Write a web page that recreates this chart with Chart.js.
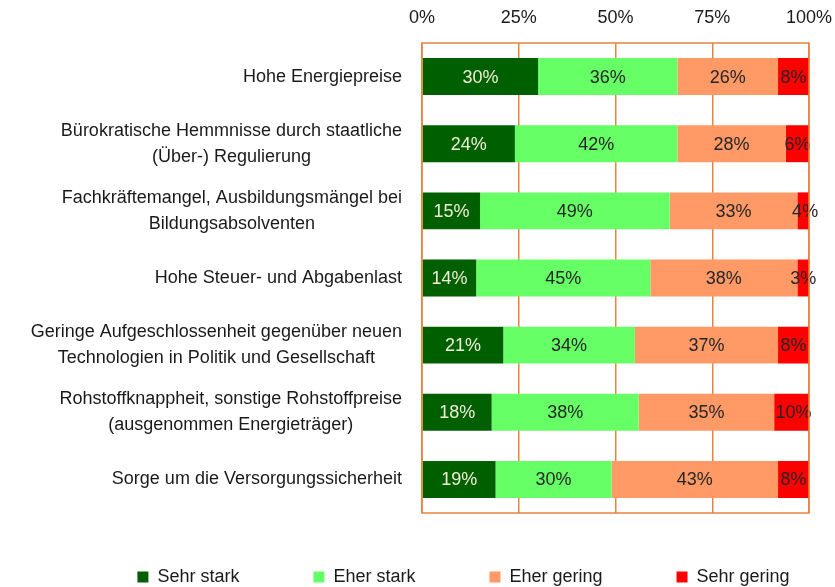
<!DOCTYPE html>
<html>
<head>
<meta charset="utf-8">
<script src="https://cdn.jsdelivr.net/npm/chart.js@4"></script>
<style>
  html, body { margin: 0; padding: 0; background: #ffffff; }
  #wrap { width: 835px; height: 587px; }
</style>
</head>
<body>
<div id="wrap"><canvas id="barChart" width="835" height="587"></canvas></div>
<script>
const categories = [
    ['Hohe Energiepreise'],
    ['Bürokratische Hemmnisse durch staatliche', '(Über-) Regulierung'],
    ['Fachkräftemangel, Ausbildungsmängel bei', 'Bildungsabsolventen'],
    ['Hohe Steuer- und Abgabenlast'],
    ['Geringe Aufgeschlossenheit gegenüber neuen', 'Technologien in Politik und Gesellschaft'],
    ['Rohstoffknappheit, sonstige Rohstoffpreise', '(ausgenommen Energieträger)'],
    ['Sorge um die Versorgungssicherheit'],
];
const sehrStark = [30, 24, 15, 14, 21, 18, 19];
const eherStark = [36, 42, 49, 45, 34, 38, 30];
const eherGering = [26, 28, 33, 38, 37, 35, 43];
const sehrGering = [8, 6, 4, 3, 8, 10, 8];
const xTicks = [0, 25, 50, 75, 100];

const FONT = "'Liberation Sans', Arial, sans-serif";
const ORANGE = '#E8843E';

// category labels: block right-aligned, lines centered inside the block
const categoryLabels = {
    id: 'categoryLabels',
    afterDraw(chart) {
        const { ctx, chartArea, scales } = chart;
        ctx.save();
        ctx.font = '18px ' + FONT;
        ctx.fillStyle = '#1a1a1a';
        ctx.textAlign = 'center';
        ctx.textBaseline = 'middle';
        const right = chartArea.left - 20;
        categories.forEach((lines, i) => {
            const yc = scales.y.getPixelForValue(i);
            const maxW = Math.max(...lines.map(l => ctx.measureText(l).width));
            const xc = right - maxW / 2;
            lines.forEach((line, j) => {
                ctx.fillText(line, xc, yc + (j - (lines.length - 1) / 2) * 26);
            });
        });
        ctx.restore();
    },
};

const valueLabels = {
    id: 'valueLabels',
    afterDatasetsDraw(chart) {
        const { ctx } = chart;
        ctx.save();
        ctx.font = '18px ' + FONT;
        ctx.textAlign = 'center';
        ctx.textBaseline = 'middle';
        chart.data.datasets.forEach((ds, di) => {
            const meta = chart.getDatasetMeta(di);
            ctx.fillStyle = di === 0 ? '#eeeed8' : '#262626';
            meta.data.forEach((bar, i) => {
                const x = (bar.x + bar.base) / 2;
                ctx.fillText(ds.data[i] + '%', x, bar.y + 1);
            });
        });
        ctx.restore();
    },
};

const plotFrame = {
    id: 'plotFrame',
    afterDatasetsDraw(chart) {
        const { ctx, chartArea: a } = chart;
        ctx.save();
        ctx.strokeStyle = ORANGE;
        ctx.lineWidth = 1.5;
        ctx.strokeRect(a.left, a.top, a.right - a.left, a.bottom - a.top);
        ctx.restore();
    },
};

// legend sits low and a bit right of centre, with wide gaps between items
const legendSpacing = {
    id: 'legendSpacing',
    beforeInit(chart) {
        const fit = chart.legend.fit;
        chart.legend.fit = function () {
            fit.call(this);
            this.height = 74;
        };
    },
    afterLayout(chart) {
        const lg = chart.legend;
        lg.top -= 19;
        lg.left += 59;
        lg.right += 59;
    },
};

new Chart(document.getElementById('barChart').getContext('2d'), {
    type: 'bar',
    data: {
        labels: categories,
        datasets: [
            { label: 'Sehr stark', data: sehrStark, backgroundColor: '#006000' },
            { label: 'Eher stark', data: eherStark, backgroundColor: '#66ff66' },
            { label: 'Eher gering', data: eherGering, backgroundColor: '#ff9966' },
            { label: 'Sehr gering', data: sehrGering, backgroundColor: '#ff0000' },
        ],
    },
    options: {
        indexAxis: 'y',
        responsive: false,
        animation: false,
        devicePixelRatio: 1,
        layout: { padding: { left: 0, right: 26, top: 0, bottom: 0 } },
        datasets: { bar: { barPercentage: 0.55, categoryPercentage: 1 } },
        plugins: {
            legend: {
                position: 'bottom',
                labels: {
                    boxWidth: 11,
                    boxHeight: 11,
                    padding: 74,
                    color: '#1a1a1a',
                    font: { family: FONT, size: 18 },
                },
            },
            tooltip: { enabled: false },
        },
        scales: {
            x: {
                position: 'top',
                stacked: true,
                min: 0,
                max: 100,
                afterBuildTicks(scale) {
                    scale.ticks = xTicks.map(v => ({ value: v }));
                },
                afterFit(scale) {
                    scale.height = 43;
                    scale.paddingLeft = 0;
                    scale.paddingRight = 0;
                },
                grid: { color: ORANGE, lineWidth: 1.5, drawTicks: false },
                border: { display: false },
                ticks: {
                    padding: 14,
                    color: '#1a1a1a',
                    font: { family: FONT, size: 18 },
                    callback: v => v + '%',
                },
            },
            y: {
                stacked: true,
                afterFit(scale) { scale.width = 422; },
                grid: { display: false },
                border: { display: false },
                ticks: { display: false },
            },
        },
    },
    plugins: [categoryLabels, valueLabels, plotFrame, legendSpacing],
});
</script>
</body>
</html>
